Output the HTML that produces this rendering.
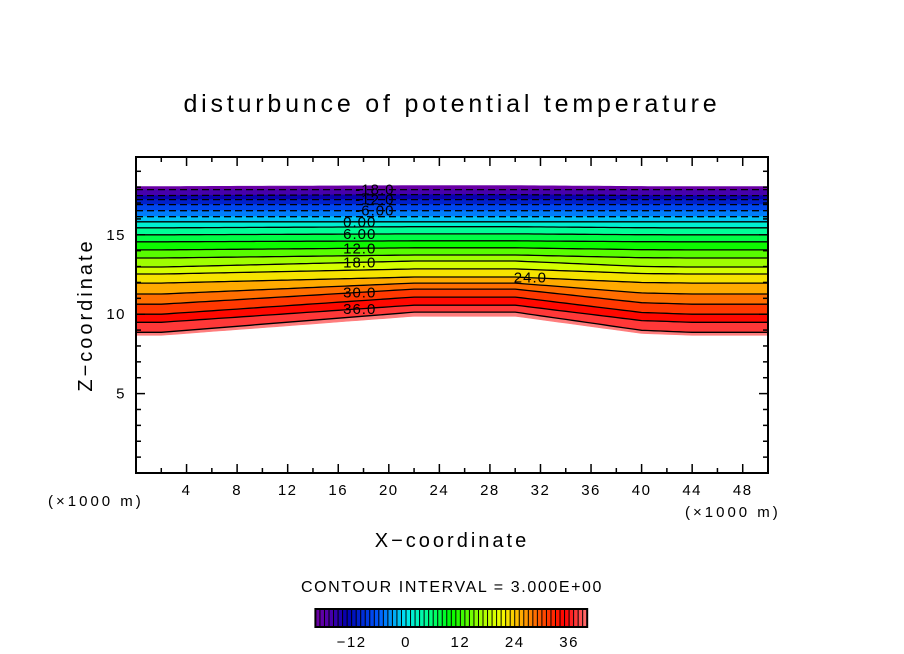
<!DOCTYPE html>
<html><head><meta charset="utf-8">
<style>
html,body{margin:0;padding:0;background:#fff;}
svg{display:block;font-family:"Liberation Sans",sans-serif;}
</style></head>
<body>
<svg id="chart" width="904" height="654" viewBox="0 0 904 654" xmlns="http://www.w3.org/2000/svg">
<text x="452" y="112" text-anchor="middle" font-size="25" letter-spacing="3.8" fill="#000">disturbunce of potential temperature</text>
<g id="plot"></g>
<g id="axes"></g>
<text transform="translate(92,315) rotate(-90)" text-anchor="middle" font-size="20" letter-spacing="3">Z−coordinate</text>
<text x="452" y="547" text-anchor="middle" font-size="20" letter-spacing="3">X−coordinate</text>
<text x="48" y="506" font-size="15" letter-spacing="3">(×1000 m)</text>
<text x="685" y="517" font-size="15" letter-spacing="3">(×1000 m)</text>
<text x="452" y="592" text-anchor="middle" font-size="16" letter-spacing="1.6">CONTOUR INTERVAL = 3.000E+00</text>
<g id="cbar"></g>
</svg>
<script>
// ---- data ----
const levels = [-21,-18,-15,-12,-9,-6,-3,0,3,6,9,12,15,18,21,24,27,30,33,36,39,42];
const zEdge  = [18.04,17.85,17.47,17.22,16.90,16.52,16.14,15.82,15.44,15.00,14.56,14.05,13.54,12.97,12.53,11.96,11.27,10.63,10.00,9.49,8.86,8.67];
const zMid   = [18.10,17.85,17.53,17.22,16.90,16.52,16.14,15.82,15.51,15.06,14.62,14.18,13.73,13.35,12.85,12.34,11.96,11.58,11.08,10.57,10.13,9.87];
const liftX  = [0,2,12,22,30,40,44,50];
const liftV  = [0,0,0.5,1,1,0.1,0,0];
const labelLevels = [-18,-12,-6,0,6,12,18,30,36,24];
const labelTexts  = ["-18.0","-12.0","-6.00","0.00","6.00","12.0","18.0","30.0","36.0","24.0"];
const labelXs     = [18.9,18.9,18.9,17.7,17.7,17.7,17.7,17.7,17.7,31.2];
const xTicks = [4,8,12,16,20,24,28,32,36,40,44,48];
const yTicks = [5,10,15];
const cbarTicks = [-12,0,12,24,36];

// ---- scales ----
const X0=136,X1=768,Y0=473,Y1=157;
const sx=x=>X0+(x/50)*(X1-X0);
const sy=z=>Y0-(z/19.9)*(Y0-Y1);
const NS="http://www.w3.org/2000/svg";
function mk(tag,attrs,parent){const e=document.createElementNS(NS,tag);for(const k in attrs)e.setAttribute(k,attrs[k]);parent.appendChild(e);return e;}
function lift(x){for(let i=0;i<liftX.length-1;i++){if(x<=liftX[i+1]){const t=(x-liftX[i])/(liftX[i+1]-liftX[i]);return liftV[i]+t*(liftV[i+1]-liftV[i]);}}return 0;}
function zAt(k,x){return zEdge[k]+lift(x)*(zMid[k]-zEdge[k]);}
const stops=[[-21,[120,0,160]],[-17,[80,0,170]],[-13,[0,0,175]],[-6,[0,90,255]],[0,[0,230,240]],[5,[0,255,140]],[10,[0,250,0]],[16,[150,255,0]],[21,[240,255,0]],[25,[255,180,0]],[30,[255,80,0]],[35,[255,0,0]],[39,[255,90,90]],[42,[255,160,160]]];
function cmap(v){if(v<=stops[0][0])return `rgb(${stops[0][1]})`;for(let i=0;i<stops.length-1;i++){const a=stops[i],b=stops[i+1];if(v<=b[0]){const t=(v-a[0])/(b[0]-a[0]);const c=a[1].map((q,j)=>Math.round(q+t*(b[1][j]-q)));return `rgb(${c})`;}}return `rgb(${stops[stops.length-1][1]})`;}
const xs=[];for(let x=0;x<=50.001;x+=0.5)xs.push(x);
const plot=document.getElementById('plot');
for(let k=0;k<levels.length-1;k++){
  const up=xs.map(x=>sx(x).toFixed(1)+','+sy(zAt(k,x)).toFixed(1));
  const lo=xs.slice().reverse().map(x=>sx(x).toFixed(1)+','+sy(zAt(k+1,x)).toFixed(1));
  const c=cmap((levels[k]+levels[k+1])/2);
  const p=mk('polygon',{points:up.concat(lo).join(' '),fill:c,stroke:c,'stroke-width':0.6},plot);
  
  
}
for(let k=1;k<levels.length-1;k++){
  const pts=xs.map(x=>sx(x).toFixed(1)+','+sy(zAt(k,x)).toFixed(1)).join(' ');
  const attrs={points:pts,fill:'none',stroke:'#000','stroke-width':1.3};
  if(levels[k]<0)attrs['stroke-dasharray']='7,4';
  const l=mk('polyline',attrs,plot);
  
  
}
labelLevels.forEach((lv,i)=>{
  const k=levels.indexOf(lv);const x=labelXs[i];
  const t=mk('text',{x:sx(x),y:sy(zAt(k,x))+5,'text-anchor':'middle','font-size':15,'letter-spacing':1,fill:'#000'},plot);
  t.textContent=labelTexts[i];
  
  
});
const ax=document.getElementById('axes');
const fr=mk('rect',{x:X0,y:Y1,width:X1-X0,height:Y0-Y1,fill:'none',stroke:'#000','stroke-width':2},ax);


for(let x=2;x<50;x+=2){const L=(x%4===0)?9:5;
  mk('line',{x1:sx(x),x2:sx(x),y1:Y0,y2:Y0-L,stroke:'#000','stroke-width':1.5},ax);
  mk('line',{x1:sx(x),x2:sx(x),y1:Y1,y2:Y1+L,stroke:'#000','stroke-width':1.5},ax);}
for(let z=1;z<20;z++){const L=(z%5===0)?9:5;
  mk('line',{x1:X0,x2:X0+L,y1:sy(z),y2:sy(z),stroke:'#000','stroke-width':1.5},ax);
  mk('line',{x1:X1,x2:X1-L,y1:sy(z),y2:sy(z),stroke:'#000','stroke-width':1.5},ax);}
xTicks.forEach(v=>{const t=mk('text',{x:sx(v),y:495,'text-anchor':'middle','font-size':15,'letter-spacing':1.5},ax);t.textContent=v;
  
  });
yTicks.forEach(v=>{const t=mk('text',{x:126,y:sy(v)+5,'text-anchor':'end','font-size':15,'letter-spacing':1.5},ax);t.textContent=v;
  
  });
const cb=document.getElementById('cbar');
const CX=v=>406+v*4.53;
for(let v=-20;v<40;v++){
  const r=mk('rect',{x:CX(v),y:609,width:4.53,height:18,fill:cmap(v+0.5)},cb);
  
  
  mk('line',{x1:CX(v),x2:CX(v),y1:609,y2:627,stroke:'#000','stroke-width':1},cb);
}
mk('rect',{x:CX(-20),y:609,width:CX(40)-CX(-20),height:18,fill:'none',stroke:'#000','stroke-width':2},cb);
cbarTicks.forEach(v=>{const t=mk('text',{x:CX(v),y:647,'text-anchor':'middle','font-size':15,'letter-spacing':1.5},cb);t.textContent=v<0?'−'+(-v):v;
  
  });
</script>
</body></html>
